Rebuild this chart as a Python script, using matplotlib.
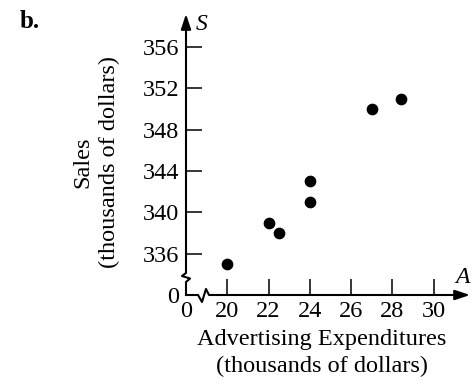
import numpy as np
import matplotlib
matplotlib.use('Agg')
import matplotlib.pyplot as plt

# advertising expenditures (thousands) vs sales (thousands)
adv = [20, 22, 22.5, 24, 24, 27, 28.4]
sales = [335, 339, 338, 341, 343, 350, 351]

xticks = [0, 20, 22, 24, 26, 28, 30]
yticks = [0, 336, 340, 344, 348, 352, 356]

plt.rcParams['font.family'] = ['Liberation Serif', 'DejaVu Serif']


# broken axes: squeeze 0..19 and 0..334 into the first half tick step
def fx(a):
  a = np.asarray(a, float)
  return np.where(a <= 19, a / 38.0, (a - 18) / 2.0)

def fx_inv(u):
  u = np.asarray(u, float)
  return np.where(u <= 0.5, u * 38.0, u * 2.0 + 18)

def fy(s):
  s = np.asarray(s, float)
  return np.where(s <= 334, s / 668.0, (s - 332) / 4.0)

def fy_inv(v):
  v = np.asarray(v, float)
  return np.where(v <= 0.5, v * 668.0, v * 4.0 + 332)


fig = plt.figure(figsize=(4.73, 3.81), dpi=100)
ax = fig.add_axes([186/473, 86/381, 284/473, 281/381])
ax.set_xscale('function', functions=(fx, fx_inv))
ax.set_yscale('function', functions=(fy, fy_inv))
ax.set_xlim(0, 31.76)
ax.set_ylim(0, 359.2)

ax.scatter(adv, sales, s=55, color='black', zorder=3, clip_on=False)

for sp in ax.spines.values():
  sp.set_visible(False)

ax.set_xticks(xticks)
ax.set_xticklabels([str(t) for t in xticks])
ax.set_yticks(yticks)
ax.set_yticklabels([str(t) for t in yticks])
ax.xaxis.set_minor_locator(matplotlib.ticker.NullLocator())
ax.yaxis.set_minor_locator(matplotlib.ticker.NullLocator())
ax.tick_params(direction='in', length=11.5, width=1.1, labelsize=17.5, pad=4)
ax.tick_params(axis='y', pad=5)
ax.xaxis.get_major_ticks()[0].tick1line.set_visible(False)
ax.yaxis.get_major_ticks()[0].tick1line.set_visible(False)

# axis lines with break marks
lw = 1.5
ax.plot([0, 0, -0.0141, 0.0141, 0, 0], [0.985, 0.0783, 0.0676, 0.0587, 0.0463, 0],
        transform=ax.transAxes, color='black', lw=lw, clip_on=False)
ax.plot([0, 0.0423, 0.0563, 0.0704, 0.081, 0.985], [0, 0, -0.0249, 0.0214, 0, 0],
        transform=ax.transAxes, color='black', lw=lw, clip_on=False)
arrow = dict(arrowstyle='-|>,head_length=0.9,head_width=0.3', color='black', lw=lw,
             shrinkA=0, shrinkB=0)
ax.annotate('', xy=(0, 1.0), xytext=(0, 0.95), xycoords='axes fraction', arrowprops=arrow)
ax.annotate('', xy=(1.0, 0), xytext=(0.95, 0), xycoords='axes fraction', arrowprops=arrow)

ax.text(0.035, 1.0, 'S', transform=ax.transAxes, fontsize=17, style='italic',
        ha='left', va='top')
ax.text(1.0, 0.025, 'A', transform=ax.transAxes, fontsize=17, style='italic',
        ha='right', va='bottom')

fig.text(96/473, 1 - 162/381, 'Sales\n(thousands of dollars)', rotation=90,
         ha='center', va='center', multialignment='center', fontsize=17.5, linespacing=1.35)
fig.text(322/473, 1 - 353/381, 'Advertising Expenditures\n(thousands of dollars)',
         ha='center', va='center', multialignment='center', fontsize=17.5, linespacing=1.35)
fig.text(20/473, 1 - 22/381, 'b.', fontsize=18, fontweight='bold', ha='left', va='center')

fig.savefig('out.png', dpi=100)
